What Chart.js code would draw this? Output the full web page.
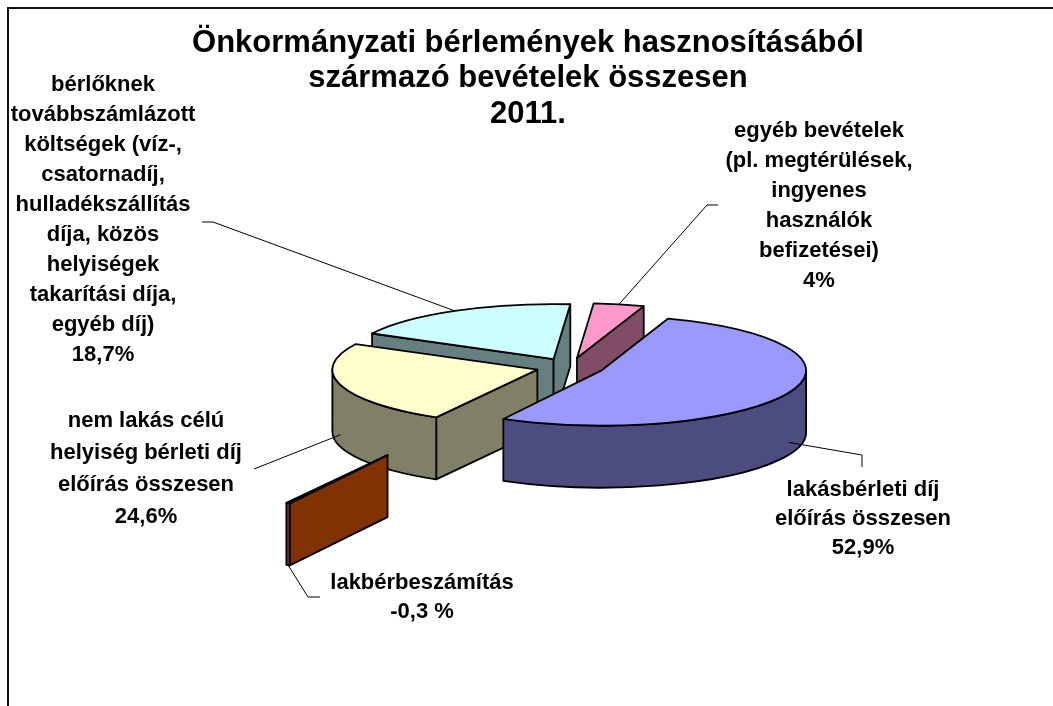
<!DOCTYPE html>
<html>
<head>
<meta charset="utf-8">
<title>Önkormányzati bérlemények 2011</title>
<script src="https://cdn.jsdelivr.net/npm/chart.js@4.4.0/dist/chart.umd.min.js"></script>
<style>
  html, body { margin: 0; padding: 0; background: #fff; }
  canvas { display: block; }
</style>
</head>
<body>
<canvas id="pie" width="1053" height="706"></canvas>
<script>
// slices, clockwise from the first one
const categories = [
  'lakásbérleti díj előírás összesen',
  'lakbérbeszámítás',
  'nem lakás célú helyiség bérleti díj előírás összesen',
  'bérlőknek továbbszámlázott költségek',
  'egyéb bevételek'
];
const shares = [52.9, -0.3, 24.6, 18.7, 4];
const valueLabels = ['52,9%', '-0,3 %', '24,6%', '18,7%', '4%'];

// category text as it is wrapped on the chart
const labelLines = [
  ['lakásbérleti díj', 'előírás összesen'],
  ['lakbérbeszámítás'],
  ['nem lakás célú', 'helyiség bérleti díj', 'előírás összesen'],
  ['bérlőknek', 'továbbszámlázott', 'költségek (víz-,', 'csatornadíj,', 'hulladékszállítás',
   'díja, közös', 'helyiségek', 'takarítási díja,', 'egyéb díj)'],
  ['egyéb bevételek', '(pl. megtérülések,', 'ingyenes', 'használók', 'befizetései)']
];

const titleLines = ['Önkormányzati bérlemények hasznosításából', 'származó bevételek összesen', '2011.'];

const topColors  = ['#9999FF', '#FF6600', '#FFFFCC', '#CCFFFF', '#FF99CC'];
const sideColors = ['#4C4C80', '#803300', '#808066', '#668080', '#804C66'];

const TILT = 0.268;   // vertical squash of the pie disc
const DEPTH = 62;     // thickness of the disc
const FONT = '"Liberation Sans", Arial, sans-serif';

// where each data label sits and how its leader line runs
const labelPos = [
  { x: 863, y: 490, step: 29, depth: 0.8, leader: [[862, 467], [862, 455]] },
  { x: 422, y: 583, step: 29, depth: 1.0, leader: [[320, 597], [308, 597]] },
  { x: 146, y: 421, step: 32, depth: 0.8, leader: [[254, 469]] },
  { x: 103, y: 85,  step: 30, depth: 0,   leader: [[202, 222], [213, 222]] },
  { x: 819, y: 131, step: 30, depth: 0,   leader: [[718, 205], [707, 205]] }
];

function pt(s, ang, z) {
  return { x: s.cx + s.r * Math.cos(ang), y: s.cy + s.r * Math.sin(ang) * TILT + z };
}

function radialWall(ctx, s, a) {
  const p0 = pt(s, a, 0), p1 = pt(s, a, DEPTH);
  ctx.beginPath();
  ctx.moveTo(s.cx, s.cy);
  ctx.lineTo(p0.x, p0.y);
  ctx.lineTo(p1.x, p1.y);
  ctx.lineTo(s.cx, s.cy + DEPTH);
  ctx.closePath();
  ctx.fill();
  ctx.stroke();
}

function rimWall(ctx, s, lo, hi) {
  ctx.beginPath();
  ctx.ellipse(s.cx, s.cy, s.r, s.r * TILT, 0, lo, hi);
  ctx.ellipse(s.cx, s.cy + DEPTH, s.r, s.r * TILT, 0, hi, lo, true);
  ctx.closePath();
  ctx.fill();
  ctx.stroke();
}

function topFace(ctx, s) {
  ctx.beginPath();
  ctx.moveTo(s.cx, s.cy);
  ctx.ellipse(s.cx, s.cy, s.r, s.r * TILT, 0, s.a0, s.a1);
  ctx.closePath();
  ctx.fill();
  ctx.stroke();
}

// draws the pie arcs as an exploded 3D disc, using the arc geometry chart.js computed
const pie3d = {
  id: 'pie3d',
  beforeDraw(chart) {
    const ctx = chart.ctx;
    ctx.save();
    ctx.fillStyle = '#fff';
    ctx.fillRect(0, 0, chart.width, chart.height);
    ctx.strokeStyle = '#111';
    ctx.lineWidth = 2;
    ctx.beginPath();
    ctx.moveTo(8, chart.height);
    ctx.lineTo(8, 8);
    ctx.lineTo(chart.width, 8);
    ctx.stroke();
    ctx.restore();
  },
  beforeDatasetDraw() {
    return false;
  },
  afterDatasetsDraw(chart) {
    const ctx = chart.ctx;
    const meta = chart.getDatasetMeta(0);
    const slices = meta.data.map((arc, i) => {
      const p = arc.getProps(['x', 'y', 'startAngle', 'endAngle', 'outerRadius'], true);
      const mid = (p.startAngle + p.endAngle) / 2;
      const off = arc.options.offset || 0;
      return {
        i, a0: p.startAngle, a1: p.endAngle, mid, r: p.outerRadius,
        cx: p.x + off * Math.cos(mid),
        cy: p.y + off * Math.sin(mid) * TILT
      };
    });
    const order = slices.slice().sort((a, b) => a.cy - b.cy);

    ctx.save();
    ctx.lineJoin = 'round';
    ctx.lineWidth = 1.8;
    ctx.strokeStyle = '#000';

    // side walls, back to front
    order.forEach(s => {
      ctx.fillStyle = sideColors[s.i];
      if (Math.cos(s.a0) < 0) radialWall(ctx, s, s.a0);
      if (Math.cos(s.a1) > 0) radialWall(ctx, s, s.a1);
      for (let k = -1; k <= 1; k++) {
        const lo = Math.max(s.a0, 2 * Math.PI * k);
        const hi = Math.min(s.a1, 2 * Math.PI * k + Math.PI);
        if (hi > lo) rimWall(ctx, s, lo, hi);
      }
    });
    // top faces
    order.forEach(s => {
      ctx.fillStyle = topColors[s.i];
      topFace(ctx, s);
    });

    // leader lines
    ctx.lineWidth = 1;
    slices.forEach(s => {
      const lp = labelPos[s.i];
      const a = pt(s, s.mid, lp.depth * DEPTH);
      ctx.beginPath();
      ctx.moveTo(lp.leader[0][0], lp.leader[0][1]);
      lp.leader.slice(1).forEach(q => ctx.lineTo(q[0], q[1]));
      ctx.lineTo(a.x, a.y);
      ctx.stroke();
    });

    // data labels
    ctx.fillStyle = '#000';
    ctx.textAlign = 'center';
    ctx.textBaseline = 'middle';
    ctx.font = 'bold 22px ' + FONT;
    slices.forEach(s => {
      const lp = labelPos[s.i];
      const lines = labelLines[s.i].concat([valueLabels[s.i]]);
      lines.forEach((t, j) => ctx.fillText(t, lp.x, lp.y + j * lp.step));
    });

    // title
    ctx.font = 'bold 31px ' + FONT;
    titleLines.forEach((t, j) => ctx.fillText(t, 528, 43 + j * 35.5));
    ctx.restore();
  }
};

new Chart(document.getElementById('pie'), {
  type: 'pie',
  data: {
    labels: categories,
    datasets: [{
      data: shares,
      backgroundColor: topColors,
      offset: [34, 376, 34, 34, 34],
      borderWidth: 0
    }]
  },
  options: {
    responsive: false,
    devicePixelRatio: 1,
    animation: false,
    events: [],
    rotation: 19,
    radius: 205,
    layout: { padding: { left: 87, right: 0, top: 28, bottom: 0 } },
    plugins: {
      legend: { display: false },
      tooltip: { enabled: false },
      title: { display: false }
    }
  },
  plugins: [pie3d]
});
</script>
</body>
</html>
